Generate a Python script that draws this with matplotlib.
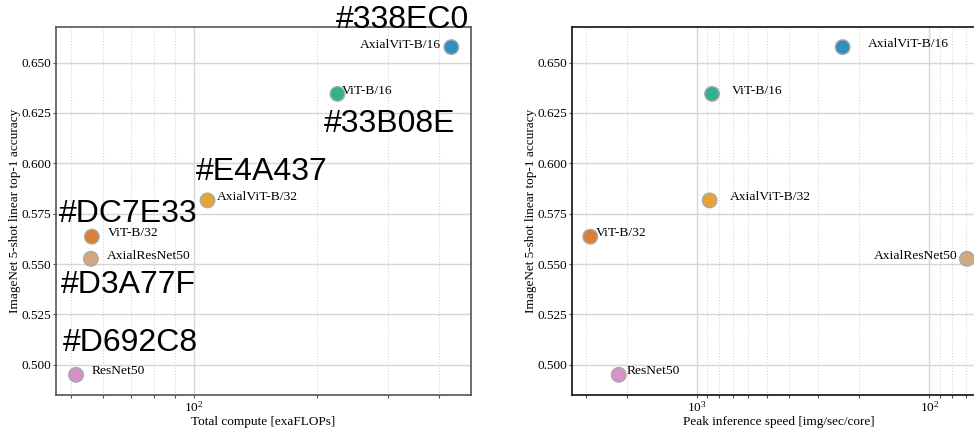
import numpy as np
import matplotlib
matplotlib.use('Agg')
import matplotlib.pyplot as plt
from matplotlib.ticker import NullFormatter, FormatStrFormatter, LogLocator

plt.rcParams['font.family'] = ['Liberation Serif', 'DejaVu Serif']
plt.rcParams['mathtext.fontset'] = 'stix'
plt.rcParams['font.size'] = 9.5

models = ['AxialViT-B/16', 'ViT-B/16', 'AxialViT-B/32', 'ViT-B/32', 'AxialResNet50', 'ResNet50']
colors = ['#338EC0', '#33B08E', '#E4A437', '#DC7E33', '#D3A77F', '#D692C8']
compute = [428, 225, 108, 56.2, 55.9, 51.4]
speed = [236, 859, 880, 2866, 69, 2163]
accuracy = [0.6577, 0.6345, 0.5816, 0.5636, 0.5526, 0.495]

# label offsets in pixels (dx, dy, ha)
left_off = [(-10, -1, 'right'), (4, 0, 'left'), (9, 0, 'left'),
            (16, 1, 'left'), (16, 0, 'left'), (16, 1, 'left')]
hex_off = [(-49, 19), (52, -38), (54, 20), (36, 15), (37, -34), (54, 24)]
right_off = [(25, 0, 'left'), (20, 0, 'left'), (20, 0, 'left'),
             (6, 1, 'left'), (-9, 0, 'right'), (8, 1, 'left')]

fig = plt.figure(figsize=(9.74, 4.29), dpi=100)
ax1 = fig.add_axes([0.0575, 0.0793, 0.4256, 0.8578])
ax2 = fig.add_axes([0.587, 0.0793, 0.4256, 0.8578])


def style(ax, spine_color):
    ax.set_xscale('log')
    ax.xaxis.set_minor_locator(LogLocator(base=10, subs=np.arange(2, 10)))
    ax.xaxis.set_minor_formatter(NullFormatter())
    ax.set_ylim(0.485, 0.6677)
    ax.set_yticks(np.arange(0.5, 0.651, 0.025))
    ax.yaxis.set_major_formatter(FormatStrFormatter('%.3f'))
    ax.grid(True, which='major', color='#d6d6d6', linewidth=1.0, linestyle='-')
    ax.grid(True, which='minor', axis='x', color='#d6d6d6', linewidth=0.8, linestyle=':')
    ax.set_axisbelow(True)
    for s in ax.spines.values():
        s.set_color(spine_color)
        s.set_linewidth(1.2)
    ax.tick_params(which='both', color='#555555', length=2.5, width=0.8, labelsize=9.5, pad=1)
    ax.set_ylabel('ImageNet 5-shot linear top-1 accuracy', fontsize=9.5)
    ax.yaxis.set_label_coords(-0.084, 0.5)


style(ax1, '#555555')
ax1.set_xlim(45.9, 477)
ax1.scatter(compute, accuracy, s=110, c=colors, edgecolors='#aaaaaa', linewidths=1, zorder=3)
for i, m in enumerate(models):
    dx, dy, ha = left_off[i]
    ax1.annotate(m, (compute[i], accuracy[i]), xytext=(dx, dy), textcoords='offset pixels',
                 ha=ha, va='baseline', fontsize=9.7)
    hx, hy = hex_off[i]
    ax1.annotate(colors[i], (compute[i], accuracy[i]), xytext=(hx, hy), textcoords='offset pixels',
                 ha='center', va='baseline', fontsize=23, family=['Liberation Sans', 'DejaVu Sans'],
                 annotation_clip=False, zorder=5)
ax1.set_xlabel('Total compute [exaFLOPs]', fontsize=9.5, labelpad=1)

style(ax2, '#111111')
ax2.set_xlim(3443, 57)
ax2.scatter(speed, accuracy, s=110, c=colors, edgecolors='#aaaaaa', linewidths=1, zorder=3)
for i, m in enumerate(models):
    dx, dy, ha = right_off[i]
    ax2.annotate(m, (speed[i], accuracy[i]), xytext=(dx, dy), textcoords='offset pixels',
                 ha=ha, va='baseline', fontsize=9.7)
ax2.set_xlabel('Peak inference speed [img/sec/core]', fontsize=9.5, labelpad=1)

plt.savefig('out.png', dpi=100)
